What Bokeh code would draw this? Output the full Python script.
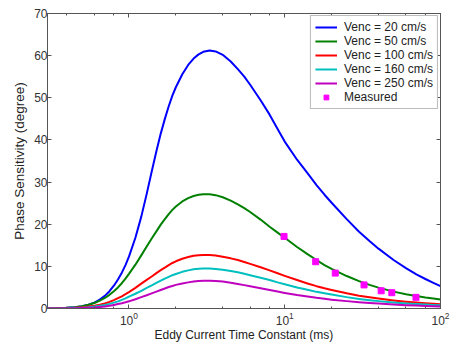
from bokeh.plotting import figure
from bokeh.models import LogAxis, LinearAxis, SingleIntervalTicker, LogTicker
from bokeh.embed import file_html
from bokeh.resources import INLINE

# Eddy current time constant (ms)
tau = [0.3, 0.35, 0.4, 0.45, 0.5, 0.55, 0.6, 0.65, 0.7, 0.75,
       0.8, 0.85, 0.9, 0.95, 1.0, 1.1, 1.2, 1.3, 1.4, 1.5,
       1.6, 1.7, 1.8, 1.9, 2.0, 2.2, 2.4, 2.6, 2.8, 3.0,
       3.3, 3.6, 4.0, 4.5, 5.0, 5.5, 6.0, 7.0, 8.0, 9.0,
       10, 12, 14, 16, 18, 20, 25, 30, 35, 40,
       50, 60, 70, 80, 90, 100]

# Phase sensitivity (degree)
venc_20 = [0, 0.05, 0.15, 0.3, 0.55, 0.9, 1.4, 2.1, 3.0, 4.1,
           5.4, 6.9, 8.5, 10.3, 12.3, 16.8, 21.8, 27.2, 32.5, 37.3,
           41.5, 45.0, 48.0, 50.5, 52.5, 55.6, 57.8, 59.3, 60.3, 60.9,
           61.2, 61.0, 60.2, 58.6, 56.8, 55.0, 53.1, 49.4, 46.0, 42.6,
           39.6, 35.3, 32.1, 29.3, 27.0, 25.1, 21.2, 18.2, 16.0, 14.2,
           11.5, 9.6, 8.1, 7.0, 6.1, 5.3]
venc_50 = [0, 0.05, 0.15, 0.3, 0.55, 0.9, 1.3, 1.85, 2.5, 3.25,
           4.1, 5.0, 6.0, 7.1, 8.2, 10.4, 12.6, 14.7, 16.6, 18.3,
           19.9, 21.2, 22.4, 23.4, 24.2, 25.4, 26.2, 26.7, 27.0, 27.1,
           27.1, 26.9, 26.4, 25.6, 24.7, 23.8, 22.9, 21.1, 19.4, 18.0,
           16.8, 14.6, 12.9, 11.5, 10.3, 9.4, 7.7, 6.5, 5.6, 4.95,
           4.0, 3.4, 2.95, 2.6, 2.35, 2.15]
venc_100 = [0, 0.03, 0.08, 0.16, 0.28, 0.45, 0.65, 0.9, 1.2, 1.58,
            2.0, 2.45, 2.9, 3.4, 3.9, 4.9, 5.9, 6.8, 7.6, 8.4,
            9.1, 9.7, 10.3, 10.8, 11.2, 11.8, 12.2, 12.5, 12.65, 12.7,
            12.7, 12.6, 12.3, 11.9, 11.5, 11.05, 10.6, 9.8, 9.05, 8.35,
            7.75, 6.75, 5.95, 5.3, 4.8, 4.4, 3.6, 3.05, 2.65, 2.35,
            1.92, 1.62, 1.4, 1.23, 1.1, 1.0]
venc_160 = [0, 0.02, 0.05, 0.11, 0.2, 0.31, 0.45, 0.63, 0.85, 1.1,
            1.4, 1.7, 2.05, 2.4, 2.8, 3.5, 4.2, 4.9, 5.5, 6.1,
            6.6, 7.1, 7.5, 7.9, 8.2, 8.7, 9.05, 9.3, 9.45, 9.5,
            9.5, 9.4, 9.2, 8.9, 8.6, 8.25, 7.9, 7.3, 6.75, 6.2,
            5.75, 5.0, 4.45, 3.95, 3.6, 3.3, 2.7, 2.28, 1.98, 1.75,
            1.43, 1.2, 1.04, 0.92, 0.82, 0.75]
venc_250 = [0, 0.01, 0.03, 0.06, 0.1, 0.17, 0.25, 0.37, 0.5, 0.66,
            0.85, 1.05, 1.25, 1.47, 1.7, 2.2, 2.7, 3.15, 3.6, 4.0,
            4.4, 4.75, 5.1, 5.35, 5.6, 5.95, 6.2, 6.4, 6.52, 6.6,
            6.6, 6.52, 6.4, 6.12, 5.82, 5.55, 5.3, 4.82, 4.4, 4.02,
            3.7, 3.2, 2.85, 2.53, 2.3, 2.1, 1.75, 1.5, 1.3, 1.16,
            0.95, 0.8, 0.7, 0.62, 0.56, 0.5]

measured_tau = [9.9, 15.8, 21.1, 32.3, 41.6, 48.7, 69.6]
measured_phase = [17.1, 11.1, 8.4, 5.6, 4.2, 3.75, 2.65]

series = [
    ("Venc = 20 cm/s", venc_20, "#0000ff"),
    ("Venc = 50 cm/s", venc_50, "#008000"),
    ("Venc = 100 cm/s", venc_100, "#ff0000"),
    ("Venc = 160 cm/s", venc_160, "#00bfbf"),
    ("Venc = 250 cm/s", venc_250, "#bf00bf"),
]

FONT = "Liberation Sans"
AX = "#555555"

p = figure(width=462, height=344, x_axis_type="log", x_range=(0.3, 100),
           y_range=(0, 70), output_backend="svg", toolbar_location=None,
           min_border_left=47, min_border_right=22, min_border_top=13,
           min_border_bottom=35, background_fill_color="white",
           border_fill_color="white")
p.grid.visible = False
p.outline_line_color = AX

for label, ys, color in series:
    p.line(tau, ys, line_color=color, line_width=2, line_join="round",
           legend_label=label)
p.scatter(measured_tau, measured_phase, marker="square", size=6,
          fill_color="#ff00ff", line_color="#ff00ff", legend_label="Measured")


def style(ax, labels=True):
    ax.axis_line_color = AX
    ax.major_tick_line_color = AX
    ax.minor_tick_line_color = AX
    ax.major_tick_in = 4
    ax.major_tick_out = 0
    ax.minor_tick_in = 2
    ax.minor_tick_out = 0
    ax.major_label_text_font = FONT
    ax.major_label_text_color = "#333333"
    ax.axis_label_text_font = FONT
    ax.axis_label_text_font_style = "normal"
    ax.axis_label_text_color = "#222222"
    ax.axis_label_text_font_size = "12px"
    if labels:
        ax.major_label_text_font_size = "12px"
    else:
        ax.major_label_text_font_size = "1px"
        ax.major_label_text_alpha = 0
        ax.major_label_standoff = 0


xa = p.xaxis[0]
style(xa)
xa.ticker = LogTicker()
xa.axis_label = "Eddy Current Time Constant (ms)"
xa.major_label_standoff = 3
xa.axis_label_standoff = 0

ya = p.yaxis[0]
style(ya)
ya.ticker = SingleIntervalTicker(interval=10, num_minor_ticks=0)
ya.axis_label = "Phase Sensitivity (degree)"
ya.axis_label_text_font_size = "13.5px"
ya.major_label_standoff = 0
ya.axis_label_standoff = 4

top = LogAxis(ticker=LogTicker())
style(top, labels=False)
p.add_layout(top, "above")

right = LinearAxis(ticker=SingleIntervalTicker(interval=10, num_minor_ticks=0))
style(right, labels=False)
p.add_layout(right, "right")

lg = p.legend[0]
lg.location = "top_right"
lg.margin = 2
lg.padding = 4
lg.spacing = 0
lg.label_height = 12
lg.glyph_height = 12
lg.glyph_width = 22
lg.label_standoff = 7
lg.label_text_font = FONT
lg.label_text_font_size = "12px"
lg.label_text_color = "#222222"
lg.border_line_color = "#777777"
lg.border_line_width = 1
lg.background_fill_alpha = 1.0

open("out.html", "w").write(file_html(p, INLINE))
